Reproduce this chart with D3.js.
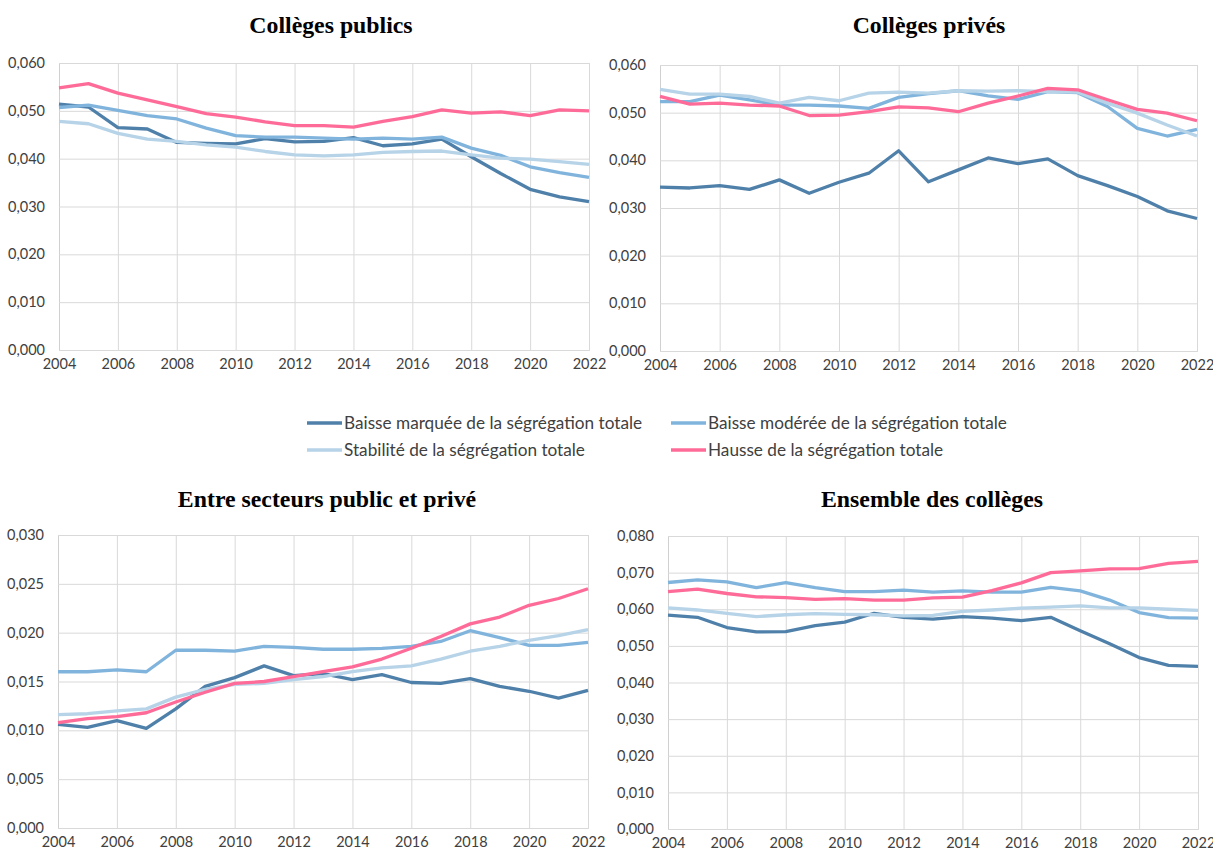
<!DOCTYPE html>
<html>
<head>
<meta charset="utf-8">
<script src="https://cdn.jsdelivr.net/npm/d3@7"></script>
<style>
  body { margin: 0; background: #fff; }
  svg text { font-family: Lato, "Open Sans", sans-serif; fill: #404040; }
  .title { font-family: "Liberation Serif", "Times New Roman", serif; font-weight: bold; fill: #000; }
</style>
</head>
<body>
<div id="graph"></div>
<script>
/*
    Data
*/
var years = d3.range(2004, 2023)

var seriesNames = [
    "Baisse marquée de la ségrégation totale",
    "Baisse modérée de la ségrégation totale",
    "Stabilité de la ségrégation totale",
    "Hausse de la ségrégation totale"
]
var seriesColors = ["#4f80aa", "#80b4dc", "#b6d3e8", "#ff6b98"]

// Collèges publics
var publicsMarquee = [0.0514, 0.0508, 0.0465, 0.0462, 0.0434, 0.0432, 0.0431, 0.0442, 0.0435, 0.0436, 0.0444, 0.0427, 0.0431, 0.0441, 0.0404, 0.0369, 0.0336, 0.0320, 0.0310]
var publicsModeree = [0.0507, 0.0512, 0.0501, 0.0490, 0.0483, 0.0464, 0.0448, 0.0445, 0.0445, 0.0443, 0.0441, 0.0443, 0.0441, 0.0445, 0.0422, 0.0407, 0.0383, 0.0371, 0.0361]
var publicsStabilite = [0.0478, 0.0473, 0.0453, 0.0441, 0.0436, 0.0429, 0.0424, 0.0415, 0.0408, 0.0406, 0.0408, 0.0413, 0.0415, 0.0416, 0.0408, 0.0401, 0.0399, 0.0394, 0.0388]
var publicsHausse = [0.0548, 0.0557, 0.0537, 0.0523, 0.0509, 0.0494, 0.0487, 0.0477, 0.0469, 0.0469, 0.0466, 0.0478, 0.0488, 0.0502, 0.0495, 0.0498, 0.0490, 0.0502, 0.0500]

// Collèges privés
var privesMarquee = [0.0344, 0.0342, 0.0347, 0.0339, 0.0359, 0.0331, 0.0354, 0.0373, 0.0420, 0.0355, 0.0380, 0.0405, 0.0393, 0.0403, 0.0368, 0.0347, 0.0324, 0.0294, 0.0278]
var privesModeree = [0.0523, 0.0523, 0.0537, 0.0527, 0.0516, 0.0516, 0.0514, 0.0509, 0.0532, 0.0540, 0.0546, 0.0535, 0.0528, 0.0544, 0.0542, 0.0513, 0.0467, 0.0451, 0.0465]
var privesStabilite = [0.0549, 0.0539, 0.0539, 0.0534, 0.0520, 0.0532, 0.0525, 0.0541, 0.0543, 0.0541, 0.0546, 0.0545, 0.0546, 0.0544, 0.0543, 0.0520, 0.0499, 0.0474, 0.0451]
var privesHausse = [0.0534, 0.0518, 0.0520, 0.0516, 0.0514, 0.0494, 0.0495, 0.0502, 0.0512, 0.0510, 0.0502, 0.0520, 0.0535, 0.0551, 0.0548, 0.0527, 0.0507, 0.0499, 0.0483]

// Entre secteurs public et privé
var entreMarquee = [0.0106, 0.0103, 0.0110, 0.0102, 0.0122, 0.0145, 0.0154, 0.0166, 0.0156, 0.0158, 0.0152, 0.0157, 0.0149, 0.0148, 0.0153, 0.0145, 0.0140, 0.0133, 0.0141]
var entreModeree = [0.0160, 0.0160, 0.0162, 0.0160, 0.0182, 0.0182, 0.0181, 0.0186, 0.0185, 0.0183, 0.0183, 0.0184, 0.0186, 0.0191, 0.0202, 0.0195, 0.0187, 0.0187, 0.0190]
var entreStabilite = [0.0116, 0.0117, 0.0120, 0.0122, 0.0134, 0.0142, 0.0147, 0.0148, 0.0152, 0.0155, 0.0160, 0.0164, 0.0166, 0.0173, 0.0181, 0.0186, 0.0192, 0.0197, 0.0203]
var entreHausse = [0.0108, 0.0112, 0.0114, 0.0118, 0.0129, 0.0139, 0.0148, 0.0150, 0.0155, 0.0160, 0.0165, 0.0173, 0.0184, 0.0196, 0.0209, 0.0216, 0.0228, 0.0235, 0.0245]

// Ensemble des collèges
var ensembleMarquee = [0.0584, 0.0578, 0.0550, 0.0538, 0.0539, 0.0555, 0.0565, 0.0589, 0.0578, 0.0573, 0.0580, 0.0576, 0.0569, 0.0578, 0.0541, 0.0506, 0.0468, 0.0447, 0.0444]
var ensembleModeree = [0.0673, 0.0680, 0.0675, 0.0659, 0.0673, 0.0659, 0.0648, 0.0648, 0.0652, 0.0647, 0.0650, 0.0647, 0.0647, 0.0660, 0.0650, 0.0625, 0.0591, 0.0577, 0.0576]
var ensembleStabilite = [0.0604, 0.0598, 0.0589, 0.0580, 0.0585, 0.0588, 0.0586, 0.0585, 0.0582, 0.0583, 0.0594, 0.0598, 0.0603, 0.0606, 0.0609, 0.0604, 0.0604, 0.0600, 0.0597]
var ensembleHausse = [0.0648, 0.0655, 0.0643, 0.0634, 0.0632, 0.0627, 0.0629, 0.0625, 0.0625, 0.0631, 0.0633, 0.0651, 0.0672, 0.0700, 0.0705, 0.0710, 0.0711, 0.0725, 0.0731]

var panels = [
    { title: "Collèges publics", yMax: 0.06, yStep: 0.01,
      series: [publicsMarquee, publicsModeree, publicsStabilite, publicsHausse],
      box: {x0: 59, x1: 589, y0: 63, y1: 350}, titleX: 331, titleY: 33 },
    { title: "Collèges privés", yMax: 0.06, yStep: 0.01,
      series: [privesMarquee, privesModeree, privesStabilite, privesHausse],
      box: {x0: 660, x1: 1197, y0: 65, y1: 351}, titleX: 929, titleY: 33 },
    { title: "Entre secteurs public et privé", yMax: 0.03, yStep: 0.005,
      series: [entreMarquee, entreModeree, entreStabilite, entreHausse],
      box: {x0: 58, x1: 588, y0: 535, y1: 828}, titleX: 327, titleY: 507 },
    { title: "Ensemble des collèges", yMax: 0.08, yStep: 0.01,
      series: [ensembleMarquee, ensembleModeree, ensembleStabilite, ensembleHausse],
      box: {x0: 668, x1: 1198, y0: 536, y1: 829}, titleX: 932, titleY: 507 }
]

var svg = d3.select("#graph").append("svg")
    .attr("width", 1213)
    .attr("height", 853)

var fmt = function (d) { return d3.format(".3f")(d).replace(".", ",") }

panels.forEach(function (p) {
    var b = p.box
    var x = d3.scaleLinear().domain([2004, 2022]).range([b.x0, b.x1])
    var y = d3.scaleLinear().domain([0, p.yMax]).range([b.y1, b.y0])
    var yTicks = d3.range(0, p.yMax + p.yStep / 2, p.yStep)
    var xTicks = d3.range(2004, 2023, 2)

    var g = svg.append("g")

    // Grid
    g.append("g")
        .attr("transform", "translate(0," + b.y1 + ")")
        .call(d3.axisBottom(x).tickValues(xTicks).tickSize(-(b.y1 - b.y0)).tickFormat(d3.format("d")).tickPadding(9))
        .call(function (a) {
            a.select(".domain").attr("stroke", "#d0d0d0")
            a.selectAll(".tick line").attr("stroke", "#d9d9d9")
            a.selectAll(".tick text").style("font-size", "14.5px").attr("fill", "#404040")
        })

    g.append("g")
        .attr("transform", "translate(" + b.x0 + ",0)")
        .call(d3.axisLeft(y).tickValues(yTicks).tickSize(-(b.x1 - b.x0)).tickFormat(fmt).tickPadding(14))
        .call(function (a) {
            a.select(".domain").attr("stroke", "#d0d0d0")
            a.selectAll(".tick line").attr("stroke", "#d9d9d9")
            a.selectAll(".tick text").style("font-size", "14.5px").attr("fill", "#404040")
        })

    // Lines
    var line = d3.line()
        .x(function (d, i) { return x(years[i]) })
        .y(function (d) { return y(d) })

    p.series.forEach(function (s, i) {
        g.append("path")
            .attr("d", line(s))
            .attr("fill", "none")
            .attr("stroke", seriesColors[i])
            .attr("stroke-width", 3.3)
            .attr("stroke-linejoin", "round")
    })

    svg.append("text")
        .attr("class", "title")
        .attr("x", p.titleX)
        .attr("y", p.titleY)
        .attr("text-anchor", "middle")
        .style("font-size", "23.8px")
        .text(p.title)
})

/*
    Legend
*/
var legendPos = [[307, 423], [671, 423], [307, 450], [671, 450]]

var legend = svg.append("g")
seriesNames.forEach(function (name, i) {
    var pos = legendPos[i]
    legend.append("line")
        .attr("x1", pos[0]).attr("x2", pos[0] + 35)
        .attr("y1", pos[1]).attr("y2", pos[1])
        .attr("stroke", seriesColors[i])
        .attr("stroke-width", 3.3)
    legend.append("text")
        .attr("x", pos[0] + 37)
        .attr("y", pos[1])
        .attr("dy", "0.35em")
        .style("font-size", "17.2px")
        .text(name)
})
</script>
</body>
</html>
